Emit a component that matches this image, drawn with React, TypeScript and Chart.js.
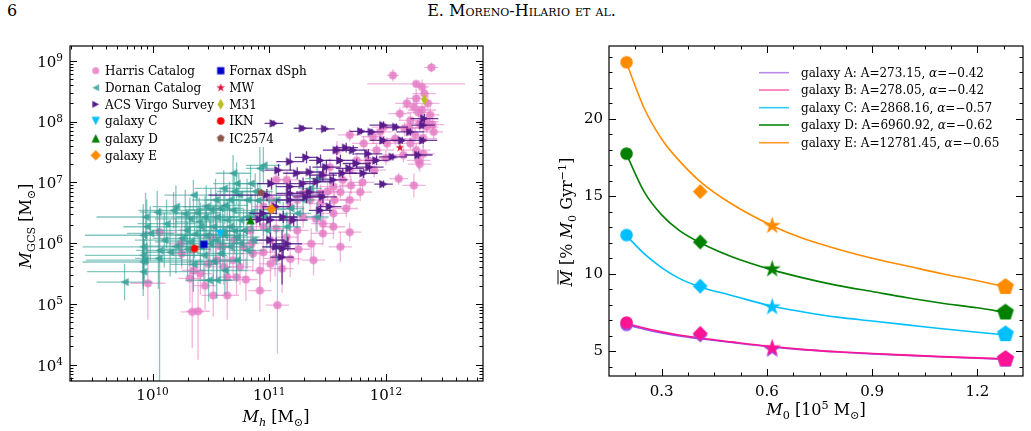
import React, { useEffect, useRef } from 'react';
import { Chart, registerables } from 'chart.js';

Chart.register(...registerables);

const FONT = '"DejaVu Serif", "Liberation Serif", serif';

// ---------------- Left panel: GC-system mass vs halo mass ----------------
// rows: [log Mh, log M_GCS, err log Mh, err log M_GCS, optional upper err log M_GCS]
const harris = [
  [12.39, 8.89, 0.06, 0.08], [12.06, 8.76, 0.05, 0.10], [12.26, 8.62, 0.42, 0.05], [12.31, 8.57, 0.06, 0.12],
  [12.26, 8.38, 0.08, 0.15], [12.24, 8.24, 0.10, 0.12], [12.31, 8.19, 0.12, 0.10], [12.12, 8.13, 0.10, 0.10],
  [12.38, 8.11, 0.08, 0.12], [12.21, 8.02, 0.10, 0.10], [12.29, 7.97, 0.12, 0.12], [12.35, 7.91, 0.10, 0.10],
  [12.41, 7.83, 0.08, 0.12], [12.16, 7.89, 0.20, 0.10], [12.25, 7.78, 0.10, 0.12], [12.32, 7.72, 0.12, 0.15],
  [12.08, 7.72, 0.15, 0.10], [12.21, 7.64, 0.10, 0.10], [12.26, 7.53, 0.12, 0.12], [12.32, 7.47, 0.10, 0.15],
  [12.28, 7.36, 0.10, 0.15], [12.24, 6.95, 0.10, 0.20], [12.11, 7.06, 0.08, 0.10], [12.29, 7.30, 0.10, 0.12],
  [12.01, 7.64, 0.12, 0.10], [11.92, 7.53, 0.15, 0.12], [11.85, 7.36, 0.10, 0.15], [11.75, 7.36, 0.12, 0.12],
  [11.69, 7.78, 0.10, 0.10], [11.58, 7.53, 0.12, 0.15], [11.52, 7.25, 0.10, 0.15], [11.69, 7.20, 0.10, 0.12],
  [11.63, 7.04, 0.08, 0.15], [11.78, 6.84, 0.10, 0.15], [11.61, 6.84, 0.10, 0.12], [11.55, 6.93, 0.12, 0.15],
  [11.46, 7.12, 0.10, 0.12], [11.44, 6.82, 0.10, 0.15], [11.56, 6.71, 0.10, 0.15], [11.69, 6.71, 0.08, 0.12],
  [11.66, 6.57, 0.10, 0.15], [11.55, 6.49, 0.12, 0.18], [11.46, 6.32, 0.10, 0.20], [11.44, 6.65, 0.10, 0.15],
  [11.35, 6.71, 0.10, 0.15], [11.29, 6.82, 0.10, 0.12], [11.24, 6.71, 0.10, 0.15], [11.18, 6.60, 0.10, 0.15],
  [11.15, 7.04, 0.10, 0.15], [11.06, 7.04, 0.08, 0.12], [11.02, 6.71, 0.10, 0.15], [10.95, 6.60, 0.10, 0.15],
  [10.89, 6.43, 0.10, 0.20], [10.95, 6.27, 0.10, 0.20], [10.84, 6.21, 0.10, 0.20], [11.06, 6.24, 0.10, 0.20],
  [11.18, 6.38, 0.10, 0.20], [11.29, 6.43, 0.10, 0.18], [11.46, 6.16, 0.10, 0.20], [11.69, 6.18, 0.10, 0.15],
  [11.61, 5.94, 0.10, 0.25], [11.55, 6.27, 0.10, 0.20], [11.36, 5.99, 0.10, 0.25], [11.38, 5.72, 0.10, 0.25],
  [11.18, 5.74, 0.10, 0.30], [11.11, 5.58, 0.10, 0.40], [11.01, 5.66, 0.10, 0.30], [10.92, 5.55, 0.10, 0.30],
  [10.92, 5.22, 0.10, 0.35], [10.86, 5.83, 0.10, 0.30], [10.78, 5.94, 0.10, 0.30], [10.75, 5.61, 0.10, 0.30],
  [10.64, 5.44, 0.10, 0.35], [10.64, 5.14, 0.10, 0.40], [10.52, 5.14, 0.10, 0.35], [10.72, 5.44, 0.10, 0.30],
  [10.61, 5.61, 0.10, 0.30], [10.55, 5.72, 0.10, 0.30], [10.41, 5.50, 0.10, 0.35], [10.35, 5.55, 0.10, 0.35],
  [10.32, 5.42, 0.10, 0.40], [10.34, 4.87, 0.10, 0.60], [10.39, 4.88, 0.10, 0.80], [10.24, 5.99, 0.10, 0.25],
  [10.25, 5.83, 0.10, 0.25], [10.06, 6.18, 0.15, 0.30], [9.96, 5.34, 0.15, 0.60], [11.07, 4.98, 0.10, 0.80],
  [11.15, 6.10, 0.10, 0.20], [11.24, 6.21, 0.10, 0.20], [11.01, 6.05, 0.10, 0.20], [10.48, 5.66, 0.10, 0.30],
  [10.69, 5.72, 0.10, 0.30], [11.98, 7.91, 0.10, 0.10], [11.89, 7.75, 0.10, 0.12], [11.95, 7.83, 0.10, 0.10],
  [11.81, 7.64, 0.10, 0.12], [12.33, 8.46, 0.10, 0.10], [12.36, 8.30, 0.10, 0.12],
  [10.50, 6.10, 0.10, 0.25], [10.60, 5.95, 0.10, 0.30], [10.70, 6.05, 0.10, 0.25], [10.85, 6.00, 0.10, 0.25],
  [10.95, 5.85, 0.10, 0.30], [11.05, 5.75, 0.10, 0.30], [11.25, 5.90, 0.10, 0.25], [11.40, 6.40, 0.10, 0.20],
  [11.50, 6.85, 0.10, 0.15], [11.70, 6.95, 0.10, 0.15], [11.80, 7.00, 0.10, 0.15], [11.90, 7.20, 0.10, 0.12],
  [12.00, 7.40, 0.10, 0.12], [12.15, 7.45, 0.10, 0.12], [12.20, 7.90, 0.10, 0.10], [12.28, 8.15, 0.10, 0.10],
  [12.35, 8.00, 0.10, 0.10], [12.40, 7.95, 0.10, 0.10], [12.18, 8.30, 0.10, 0.10], [10.45, 5.30, 0.10, 0.40],
  [10.58, 5.95, 0.10, 0.30], [10.80, 5.40, 0.10, 0.35],
];

const dornan = [
  [10.95, 7.28, 0.15, 0.30], [10.92, 7.23, 0.12, 0.35], [10.69, 7.15, 0.15, 0.30], [10.84, 6.98, 0.15, 0.30],
  [10.72, 6.98, 0.20, 0.35], [10.61, 6.90, 0.25, 0.30], [10.74, 6.79, 0.15, 0.35], [10.35, 6.79, 0.25, 0.25],
  [10.54, 6.71, 0.20, 0.35], [10.66, 6.71, 0.20, 0.30], [10.81, 6.71, 0.15, 0.35], [10.46, 6.60, 0.20, 0.35],
  [10.58, 6.57, 0.20, 0.35], [10.69, 6.54, 0.20, 0.30], [10.32, 6.40, 0.30, 0.35], [10.45, 6.43, 0.25, 0.35],
  [10.55, 6.43, 0.20, 0.40], [10.64, 6.38, 0.20, 0.35], [10.75, 6.38, 0.15, 0.35], [10.41, 6.27, 0.30, 0.40],
  [10.52, 6.27, 0.25, 0.35], [10.66, 6.27, 0.20, 0.35], [10.78, 6.21, 0.15, 0.35], [10.29, 6.21, 0.30, 0.35],
  [10.46, 6.13, 0.25, 0.40], [10.61, 6.13, 0.20, 0.35], [10.72, 6.10, 0.20, 0.35], [10.32, 6.02, 0.30, 0.40],
  [10.49, 5.99, 0.25, 0.40], [10.15, 5.85, 0.25, 0.40], [10.06, 5.88, 0.20, 2.20, 0.70], [9.92, 6.13, 0.50, 0.40],
  [9.98, 6.16, 0.20, 0.45], [9.94, 6.43, 0.42, 0.40], [10.04, 6.51, 0.15, 0.35], [9.95, 6.27, 0.20, 0.45],
  [9.92, 5.94, 0.52, 0.70], [9.92, 5.80, 0.50, 0.40], [9.92, 5.69, 0.52, 0.40], [9.93, 5.72, 0.50, 0.35],
  [9.92, 5.53, 0.48, 0.40], [9.76, 5.36, 0.24, 0.30], [10.55, 5.39, 0.15, 0.30], [10.48, 5.39, 0.20, 0.35],
  [10.72, 5.72, 0.15, 0.35], [10.81, 5.88, 0.15, 0.30], [10.86, 6.05, 0.15, 0.30], [11.06, 5.94, 0.12, 0.30],
  [10.98, 6.21, 0.15, 0.30], [11.15, 6.27, 0.12, 0.25], [11.18, 6.57, 0.12, 0.25], [11.29, 6.71, 0.10, 0.25],
  [11.06, 6.71, 0.15, 0.25], [11.35, 6.90, 0.10, 0.25], [11.41, 7.06, 0.10, 0.25], [10.81, 6.43, 0.15, 0.30],
  [10.95, 6.43, 0.15, 0.30], [11.12, 6.43, 0.12, 0.25], [11.24, 6.49, 0.12, 0.25], [11.41, 6.43, 0.10, 0.25],
  [10.18, 6.54, 0.30, 0.30], [10.12, 6.32, 0.25, 0.40], [10.41, 5.94, 0.25, 0.40], [10.58, 5.83, 0.20, 0.40],
  [10.66, 5.94, 0.20, 0.35],
  [10.20, 6.60, 0.20, 0.35], [10.28, 6.48, 0.25, 0.40], [10.38, 6.50, 0.20, 0.35], [10.50, 6.55, 0.20, 0.35],
  [10.62, 6.62, 0.20, 0.30], [10.70, 6.85, 0.15, 0.30], [10.40, 6.35, 0.20, 0.40], [10.36, 6.15, 0.25, 0.40],
  [10.54, 6.05, 0.20, 0.40], [10.60, 6.20, 0.20, 0.35], [10.25, 6.08, 0.25, 0.45], [10.20, 5.95, 0.25, 0.45],
  [10.44, 5.80, 0.20, 0.45], [10.52, 5.70, 0.20, 0.40], [10.62, 5.55, 0.20, 0.40], [10.35, 5.65, 0.20, 0.45],
  [10.70, 6.20, 0.15, 0.35], [10.85, 6.50, 0.15, 0.30], [10.90, 6.70, 0.15, 0.30], [11.00, 6.55, 0.15, 0.30],
  [10.88, 6.85, 0.15, 0.30], [10.10, 6.05, 0.25, 0.45], [10.05, 5.75, 0.20, 0.50], [10.30, 5.90, 0.20, 0.45],
  [10.75, 6.00, 0.15, 0.35],
];

const acsVirgo = [
  [11.04, 7.97, 0.08, 0.05], [11.29, 7.89, 0.08, 0.05], [11.48, 7.88, 0.08, 0.05], [11.79, 7.84, 0.10, 0.05],
  [11.88, 7.83, 0.10, 0.05], [11.98, 7.94, 0.12, 0.06], [12.09, 7.91, 0.10, 0.06], [12.33, 8.05, 0.12, 0.08],
  [12.32, 7.94, 0.10, 0.06], [12.32, 7.69, 0.12, 0.06], [12.28, 7.45, 0.12, 0.06], [12.14, 7.69, 0.10, 0.06],
  [11.98, 7.69, 0.12, 0.06], [12.06, 7.42, 0.12, 0.06], [11.92, 7.36, 0.10, 0.08], [11.85, 7.47, 0.12, 0.08],
  [11.72, 7.53, 0.12, 0.08], [11.66, 7.57, 0.10, 0.08], [11.58, 7.53, 0.12, 0.08], [11.75, 7.31, 0.12, 0.08],
  [11.86, 7.25, 0.12, 0.08], [11.69, 7.23, 0.12, 0.08], [11.63, 7.15, 0.12, 0.08], [11.81, 7.15, 0.12, 0.08],
  [11.98, 6.97, 0.08, 0.06], [11.32, 7.41, 0.10, 0.10], [11.18, 7.34, 0.12, 0.15], [11.08, 7.20, 0.12, 0.10],
  [11.24, 7.15, 0.12, 0.10], [11.35, 7.17, 0.12, 0.10], [11.46, 7.12, 0.12, 0.10], [11.55, 7.04, 0.12, 0.10],
  [11.41, 7.01, 0.12, 0.10], [11.29, 6.98, 0.12, 0.10], [11.02, 6.98, 0.12, 0.10], [11.18, 6.93, 0.12, 0.10],
  [11.35, 6.84, 0.12, 0.10], [11.46, 6.76, 0.12, 0.10], [11.52, 6.60, 0.10, 0.10], [11.44, 6.54, 0.10, 0.10],
  [11.32, 6.76, 0.12, 0.10], [11.18, 6.71, 0.12, 0.10], [11.06, 6.60, 0.12, 0.10], [10.95, 6.49, 0.12, 0.10],
  [10.92, 6.39, 0.12, 0.10], [11.01, 6.38, 0.12, 0.12], [11.12, 6.43, 0.12, 0.10], [11.21, 6.38, 0.12, 0.10],
  [11.06, 5.94, 0.12, 0.15], [11.12, 5.91, 0.10, 0.15], [11.01, 6.05, 0.12, 0.12], [11.16, 5.99, 0.12, 0.12],
  [10.98, 6.79, 0.50, 0.10], [11.18, 6.82, 0.12, 0.10], [11.44, 7.36, 0.10, 0.10], [11.49, 7.25, 0.12, 0.10],
  [11.61, 7.36, 0.12, 0.10], [12.21, 7.83, 0.12, 0.06], [11.11, 5.77, 0.10, 0.45],
];

// individual systems: [log Mh, log M_GCS]
const galaxyC = [10.58, 6.15];
const galaxyD = [10.84, 6.38];
const galaxyE = [11.02, 6.56];
const fornax = [10.44, 5.98];
const milkyWay = [12.12, 7.57];
const m31 = [12.33, 8.36];
const ikn = [10.36, 5.91];
const ic2574 = [10.93, 6.83];

const mhRange = [1.96e9, 6.8e12];
const mgcsRange = [5.4e3, 1.75e9];
const mhTicks = [1e10, 1e11, 1e12];
const mgcsTicks = [1e4, 1e5, 1e6, 1e7, 1e8, 1e9];

// ---------------- Right panel: mass-loss rate vs initial cluster mass ----------------
const galaxyNames = ['A', 'B', 'C', 'D', 'E'];
const fitAmp = ['273.15', '278.05', '2868.16', '6960.92', '12781.45'];
const fitAlpha = ['\u22120.42', '\u22120.42', '\u22120.57', '\u22120.62', '\u22120.65'];

// fitted curves sampled along M0 [1e5 Msun]
const m0Grid = [0.2, 0.25, 0.3, 0.35, 0.41, 0.5, 0.615, 0.7, 0.8, 0.9, 1.0, 1.1, 1.2, 1.28];
const fitA = [6.7, 6.42, 6.18, 5.98, 5.8, 5.56, 5.27, 5.1, 4.95, 4.83, 4.73, 4.63, 4.55, 4.48];
const fitB = [6.8, 6.5, 6.25, 6.05, 5.85, 5.6, 5.3, 5.12, 4.97, 4.85, 4.75, 4.65, 4.57, 4.5];
const fitC = [12.45, 11.3, 10.4, 9.7, 9.15, 8.6, 7.9, 7.55, 7.2, 6.95, 6.7, 6.45, 6.22, 6.05];
const fitD = [17.7, 15.3, 13.8, 12.8, 12.0, 11.1, 10.25, 9.75, 9.25, 8.85, 8.45, 8.1, 7.8, 7.5];
const fitE = [23.6, 20.7, 18.7, 17.3, 15.95, 14.5, 13.1, 12.3, 11.6, 11.0, 10.5, 10.0, 9.55, 9.15];

// simulated points (circle, diamond, star, pentagon)
const m0Points = [0.2, 0.41, 0.615, 1.28];
const ptsA = [6.7, 6.05, 5.1, 4.45];
const ptsB = [6.85, 6.15, 5.2, 4.5];
const ptsC = [12.5, 9.2, 7.85, 6.1];
const ptsD = [17.75, 12.05, 10.3, 7.5];
const ptsE = [23.65, 15.3, 13.1, 9.15];

const m0Range = [0.15, 1.33];
const rateRange = [3.4, 24.7];
const m0Ticks = [0.3, 0.6, 0.9, 1.2];
const rateTicks = [5, 10, 15, 20];

// ---------------- drawing helpers ----------------
function markerPath(g, shape, r) {
  g.beginPath();
  const poly = (pts) => { g.moveTo(pts[0][0], pts[0][1]); for (let i = 1; i < pts.length; i++) g.lineTo(pts[i][0], pts[i][1]); };
  switch (shape) {
    case 'circle': g.arc(0, 0, r, 0, Math.PI * 2); break;
    case 'square': g.rect(-r, -r, 2 * r, 2 * r); break;
    case 'diamond': poly([[0, -r], [r, 0], [0, r], [-r, 0]]); break;
    case 'thinDiamond': poly([[0, -r], [0.6 * r, 0], [0, r], [-0.6 * r, 0]]); break;
    case 'triUp': poly([[0, -r], [r, r], [-r, r]]); break;
    case 'triDown': poly([[0, r], [r, -r], [-r, -r]]); break;
    case 'triLeft': poly([[-r, 0], [r, -r], [r, r]]); break;
    case 'triRight': poly([[r, 0], [-r, -r], [-r, r]]); break;
    case 'star': {
      const pts = [];
      for (let i = 0; i < 10; i++) {
        const rr = i % 2 === 0 ? r : r * 0.382;
        const a = -Math.PI / 2 + (i * Math.PI) / 5;
        pts.push([rr * Math.cos(a), rr * Math.sin(a)]);
      }
      poly(pts);
      break;
    }
    case 'pentagon': {
      const pts = [];
      for (let i = 0; i < 5; i++) {
        const a = -Math.PI / 2 + (i * 2 * Math.PI) / 5;
        pts.push([r * Math.cos(a), r * Math.sin(a)]);
      }
      poly(pts);
      break;
    }
  }
  g.closePath();
}

function markerCanvas(shape, r, color) {
  const s = Math.ceil(2 * r + 2);
  const c = document.createElement('canvas');
  c.width = s;
  c.height = s;
  const g = c.getContext('2d');
  g.translate(s / 2, s / 2);
  markerPath(g, shape, r);
  g.fillStyle = color;
  g.fill();
  return c;
}

function fontOf(p, size) {
  const s = p.sub || p.sup ? size * 0.7 : size;
  return `${p.it ? 'italic ' : ''}${s}px ${FONT}`;
}

// draws a run of text pieces (italic / sub / sup); (x, y) is the anchor, y = vertical centre
function drawRun(ctx, parts, x, y, size, align = 'left', rotate = false) {
  ctx.save();
  ctx.translate(x, y);
  if (rotate) ctx.rotate(-Math.PI / 2);
  const widths = parts.map((p) => { ctx.font = fontOf(p, size); return ctx.measureText(p.t).width; });
  const total = widths.reduce((a, b) => a + b, 0);
  let cx = align === 'center' ? -total / 2 : align === 'right' ? -total : 0;
  ctx.fillStyle = '#000';
  ctx.strokeStyle = '#000';
  ctx.textBaseline = 'alphabetic';
  ctx.textAlign = 'left';
  const base = size * 0.36;
  parts.forEach((p, i) => {
    ctx.font = fontOf(p, size);
    const dy = p.sub ? size * 0.28 : p.sup ? -size * 0.38 : 0;
    ctx.fillText(p.t, cx, base + dy);
    if (p.bar) {
      ctx.lineWidth = 1;
      ctx.beginPath();
      ctx.moveTo(cx + 2, base - size * 0.86);
      ctx.lineTo(cx + widths[i], base - size * 0.86);
      ctx.stroke();
    }
    cx += widths[i];
  });
  ctx.restore();
}

function drawFrame(ctx, a) {
  ctx.save();
  ctx.strokeStyle = '#000';
  ctx.lineWidth = 1.2;
  ctx.strokeRect(a.left, a.top, a.right - a.left, a.bottom - a.top);
  ctx.restore();
}

function tick(ctx, x0, y0, x1, y1) {
  ctx.moveTo(x0, y0);
  ctx.lineTo(x1, y1);
}

// ---------------- left chart ----------------
function LeftPanel() {
  const ref = useRef(null);
  useEffect(() => {
    const pts = (rows) => rows.map((r) => ({ x: 10 ** r[0], y: 10 ** r[1] }));
    const one = (r) => [{ x: 10 ** r[0], y: 10 ** r[1] }];

    const harrisColor = 'rgba(227,119,194,0.8)';
    const dornanColor = 'rgba(52,160,150,0.85)';
    const acsColor = '#581c8c';
    const mk = {
      harris: markerCanvas('circle', 4.1, harrisColor),
      dornan: markerCanvas('triLeft', 4.1, dornanColor),
      acs: markerCanvas('triRight', 4.2, acsColor),
      galC: markerCanvas('triDown', 4.2, '#00bfff'),
      galD: markerCanvas('triUp', 4.2, '#007f00'),
      galE: markerCanvas('diamond', 5.2, '#ff8c00'),
      fornax: markerCanvas('square', 3.6, '#0000cd'),
      mw: markerCanvas('star', 4.6, '#dc143c'),
      m31: markerCanvas('thinDiamond', 5.4, '#bcbd22'),
      ikn: markerCanvas('circle', 3.8, '#ff0000'),
      ic: markerCanvas('pentagon', 4.0, '#8c564b'),
    };
    const legendMk = {
      harris: markerCanvas('circle', 3.5, harrisColor),
      dornan: markerCanvas('triLeft', 3.4, dornanColor),
      acs: markerCanvas('triRight', 3.4, acsColor),
    };

    const legendCol1 = [
      [legendMk.harris, 'Harris Catalog'], [legendMk.dornan, 'Dornan Catalog'], [legendMk.acs, 'ACS Virgo Survey'],
      [mk.galC, 'galaxy C'], [mk.galD, 'galaxy D'], [mk.galE, 'galaxy E'],
    ];
    const legendCol2 = [
      [mk.fornax, 'Fornax dSph'], [mk.mw, 'MW'], [mk.m31, 'M31'], [mk.ikn, 'IKN'], [mk.ic, 'IC2574'],
    ];

    const errorBars = {
      id: 'errorBars',
      beforeDatasetDraw(chart, args) {
        const ds = chart.data.datasets[args.index];
        if (!ds.rows) return;
        const { ctx, chartArea: a } = chart;
        const xs = chart.scales.x;
        const ys = chart.scales.y;
        ctx.save();
        ctx.beginPath();
        ctx.rect(a.left, a.top, a.right - a.left, a.bottom - a.top);
        ctx.clip();
        ctx.strokeStyle = ds.errColor;
        ctx.lineWidth = 1.3;
        for (const r of ds.rows) {
          const [lx, ly, ex, ey] = r;
          const up = r.length > 4 ? r[4] : ey;
          const px = xs.getPixelForValue(10 ** lx);
          const py = ys.getPixelForValue(10 ** ly);
          ctx.beginPath();
          tick(ctx, xs.getPixelForValue(10 ** (lx - ex)), py, xs.getPixelForValue(10 ** (lx + ex)), py);
          tick(ctx, px, ys.getPixelForValue(10 ** (ly - ey)), px, ys.getPixelForValue(10 ** (ly + up)));
          ctx.stroke();
        }
        ctx.restore();
      },
    };

    const decorations = {
      id: 'decorations',
      afterDraw(chart) {
        const { ctx, chartArea: a } = chart;
        const xs = chart.scales.x;
        const ys = chart.scales.y;
        // minor / major ticks on all four sides, pointing inwards
        ctx.save();
        ctx.strokeStyle = '#000';
        ctx.lineWidth = 1;
        ctx.beginPath();
        for (let e = 9; e <= 12; e++) {
          for (let k = 1; k <= 9; k++) {
            const v = k * 10 ** e;
            if (v < xs.min || v > xs.max) continue;
            const p = Math.round(xs.getPixelForValue(v)) + 0.5;
            const len = k === 1 ? 7 : 3.5;
            tick(ctx, p, a.bottom, p, a.bottom - len);
            tick(ctx, p, a.top, p, a.top + len);
          }
        }
        for (let e = 3; e <= 9; e++) {
          for (let k = 1; k <= 9; k++) {
            const v = k * 10 ** e;
            if (v < ys.min || v > ys.max) continue;
            const p = Math.round(ys.getPixelForValue(v)) + 0.5;
            const len = k === 1 ? 7 : 3.5;
            tick(ctx, a.left, p, a.left + len, p);
            tick(ctx, a.right, p, a.right - len, p);
          }
        }
        ctx.stroke();
        ctx.restore();
        drawFrame(ctx, a);

        // decade labels
        for (const v of mgcsTicks) {
          const p = ys.getPixelForValue(v);
          const exp = String(Math.round(Math.log10(v)));
          drawRun(ctx, [{ t: '10' }, { t: exp, sup: true }], a.left - 7, p + 0.5, 15, 'right');
        }
        for (const v of mhTicks) {
          const p = xs.getPixelForValue(v);
          const exp = String(Math.round(Math.log10(v)));
          drawRun(ctx, [{ t: '10' }, { t: exp, sup: true }], p, a.bottom + 14, 15, 'center');
        }

        // axis titles
        drawRun(ctx, [{ t: 'M', it: true }, { t: 'GCS', sub: true }, { t: ' [M' }, { t: '\u2299', sub: true }, { t: ']' }], 25, 226, 16, 'center', true);
        drawRun(ctx, [{ t: 'M', it: true }, { t: 'h', it: true, sub: true }, { t: ' [M' }, { t: '\u2299', sub: true }, { t: ']' }], 276, 416, 16, 'center');

        // legend
        const rowY = [70.7, 87.7, 104.3, 121, 138.3, 155.3];
        legendCol1.forEach(([img, label], i) => {
          ctx.drawImage(img, 95.7 - img.width / 2, rowY[i] - img.height / 2);
          drawRun(ctx, [{ t: label }], 105, rowY[i], 12, 'left');
        });
        legendCol2.forEach(([img, label], i) => {
          ctx.drawImage(img, 220.7 - img.width / 2, rowY[i] - img.height / 2);
          drawRun(ctx, [{ t: label }], 229.3, rowY[i], 12, 'left');
        });
      },
    };

    const single = (data, img, order) => ({ data: one(data), pointStyle: img, order });

    const chart = new Chart(ref.current, {
      type: 'scatter',
      data: {
        datasets: [
          single(milkyWay, mk.mw, 0),
          single(m31, mk.m31, 0),
          single(ic2574, mk.ic, 0),
          single(galaxyE, mk.galE, 1),
          single(galaxyD, mk.galD, 1),
          single(galaxyC, mk.galC, 1),
          single(fornax, mk.fornax, 1),
          single(ikn, mk.ikn, 1),
          { data: pts(acsVirgo), rows: acsVirgo, errColor: 'rgba(84,26,136,0.85)', pointStyle: mk.acs, order: 10 },
          { data: pts(dornan), rows: dornan, errColor: 'rgba(52,160,150,0.6)', pointStyle: mk.dornan, order: 11 },
          { data: pts(harris), rows: harris, errColor: 'rgba(227,119,194,0.55)', pointStyle: mk.harris, order: 12 },
        ],
      },
      options: {
        responsive: false,
        animation: false,
        devicePixelRatio: 1,
        events: [],
        layout: { padding: { left: 0, right: 32, top: 46, bottom: 0 }, autoPadding: false },
        plugins: { legend: { display: false }, tooltip: { enabled: false } },
        scales: {
          x: {
            type: 'logarithmic',
            min: mhRange[0],
            max: mhRange[1],
            ticks: { display: false },
            grid: { display: false, drawTicks: false },
            border: { display: false },
            afterFit: (s) => { s.height = 50; },
          },
          y: {
            type: 'logarithmic',
            min: mgcsRange[0],
            max: mgcsRange[1],
            ticks: { display: false },
            grid: { display: false, drawTicks: false },
            border: { display: false },
            afterFit: (s) => { s.width = 70; },
          },
        },
      },
      plugins: [errorBars, decorations],
    });
    return () => chart.destroy();
  }, []);
  return <canvas ref={ref} width={515} height={431} style={{ position: 'absolute', left: 0, top: 0 }} />;
}

// ---------------- right chart ----------------
function RightPanel() {
  const ref = useRef(null);
  useEffect(() => {
    const colors = ['#9a4fe6', '#ff1493', '#00bfff', '#008000', '#ff8c00'];
    const legendColors = ['#b98ae8', '#ff6eb8', '#33ccff', '#0a870a', '#ff9a24'];
    const fits = [fitA, fitB, fitC, fitD, fitE];
    const points = [ptsA, ptsB, ptsC, ptsD, ptsE];
    const shapes = [['circle', 6.3], ['diamond', 7.4], ['star', 9.2], ['pentagon', 8.8]];

    const datasets = [];
    fits.forEach((f, i) => {
      datasets.push({
        type: 'line',
        data: m0Grid.map((x, j) => ({ x, y: f[j] })),
        borderColor: colors[i],
        borderWidth: 1.6,
        pointRadius: 0,
        cubicInterpolationMode: 'monotone',
        fill: false,
        order: 9 - i,
      });
    });
    points.forEach((p, i) => {
      const imgs = shapes.map(([s, r]) => markerCanvas(s, r, colors[i]));
      datasets.push({
        type: 'scatter',
        data: m0Points.map((x, j) => ({ x, y: p[j] })),
        pointStyle: imgs,
        showLine: false,
        order: 4 - i,
      });
    });

    const decorations = {
      id: 'decorations',
      afterDraw(chart) {
        const { ctx, chartArea: a } = chart;
        const xs = chart.scales.x;
        const ys = chart.scales.y;
        ctx.save();
        ctx.strokeStyle = '#000';
        ctx.lineWidth = 1;
        ctx.beginPath();
        for (let i = 2; i * 0.075 < xs.max; i++) {
          const v = i * 0.075;
          const p = Math.round(xs.getPixelForValue(v)) + 0.5;
          if (p < a.left + 2 || p > a.right - 2) continue;
          const len = i % 4 === 0 ? 7 : 3.5;
          tick(ctx, p, a.bottom, p, a.bottom - len);
          tick(ctx, p, a.top, p, a.top + len);
        }
        for (let v = 4; v <= 24; v++) {
          const p = Math.round(ys.getPixelForValue(v)) + 0.5;
          const len = v % 5 === 0 ? 7 : 3.5;
          tick(ctx, a.left, p, a.left + len, p);
          tick(ctx, a.right, p, a.right - len, p);
        }
        ctx.stroke();
        ctx.restore();
        drawFrame(ctx, a);

        // axis titles (canvas starts at x = 515 of the page)
        drawRun(ctx, [{ t: 'M', it: true }, { t: '0', sub: true }, { t: ' [10' }, { t: '5', sup: true }, { t: ' M' }, { t: '\u2299', sub: true }, { t: ']' }], 301, 409, 16, 'center');
        drawRun(ctx, [{ t: 'M', it: true, bar: true }, { t: ' [% ' }, { t: 'M', it: true }, { t: '0', sub: true }, { t: ' Gyr' }, { t: '\u22121', sup: true }, { t: ']' }], 51, 222, 16, 'center', true);

        // legend
        const rowY = [72.7, 90, 107.7, 125, 142.7];
        galaxyNames.forEach((n, i) => {
          ctx.save();
          ctx.strokeStyle = legendColors[i];
          ctx.lineWidth = 1.6;
          ctx.beginPath();
          ctx.moveTo(244, rowY[i]);
          ctx.lineTo(274, rowY[i]);
          ctx.stroke();
          ctx.restore();
          drawRun(ctx, [{ t: `galaxy ${n}: A=${fitAmp[i]}, ` }, { t: '\u03b1', it: true }, { t: `=${fitAlpha[i]}` }], 286, rowY[i], 12, 'left');
        });
      },
    };

    const chart = new Chart(ref.current, {
      type: 'scatter',
      data: { datasets },
      options: {
        responsive: false,
        animation: false,
        devicePixelRatio: 1,
        events: [],
        layout: { padding: { left: 0, right: 8, top: 46, bottom: 0 }, autoPadding: false },
        plugins: { legend: { display: false }, tooltip: { enabled: false } },
        scales: {
          x: {
            type: 'linear',
            min: m0Range[0],
            max: m0Range[1],
            afterBuildTicks: (s) => { s.ticks = m0Ticks.map((v) => ({ value: v })); },
            ticks: {
              color: '#000',
              font: { family: FONT, size: 15 },
              padding: 7,
              maxRotation: 0,
              autoSkip: false,
              callback: (v) => Number(v).toFixed(1),
            },
            grid: { display: false, drawTicks: false },
            border: { display: false },
            afterFit: (s) => { s.height = 55; },
          },
          y: {
            type: 'linear',
            min: rateRange[0],
            max: rateRange[1],
            afterBuildTicks: (s) => { s.ticks = rateTicks.map((v) => ({ value: v })); },
            ticks: {
              color: '#000',
              font: { family: FONT, size: 15 },
              padding: 6,
              autoSkip: false,
              callback: (v) => String(v),
            },
            grid: { display: false, drawTicks: false },
            border: { display: false },
            afterFit: (s) => { s.width = 94; },
          },
        },
      },
      plugins: [decorations],
    });
    return () => chart.destroy();
  }, []);
  return <canvas ref={ref} width={516} height={431} style={{ position: 'absolute', left: 515, top: 0 }} />;
}

export default function App() {
  return (
    <div style={{ position: 'fixed', left: 0, top: 0, width: 1031, height: 431, background: '#fff', overflow: 'hidden' }}>
      <div style={{ position: 'absolute', left: 7, top: 1, fontFamily: FONT, fontSize: 16, lineHeight: '20px', color: '#000' }}>6</div>
      <div
        style={{
          position: 'absolute',
          left: 6,
          top: 1,
          width: 1031,
          textAlign: 'center',
          fontFamily: FONT,
          fontSize: 16,
          lineHeight: '20px',
          fontVariant: 'small-caps',
          color: '#000',
        }}
      >
        E. Moreno-Hilario et al.
      </div>
      <LeftPanel />
      <RightPanel />
    </div>
  );
}
